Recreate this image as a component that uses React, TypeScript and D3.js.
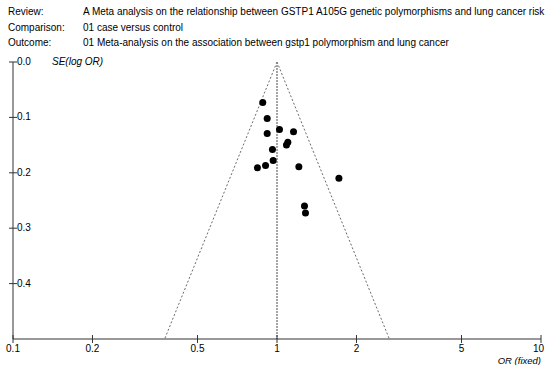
import React from "react"
import * as d3 from "d3"

// study estimates
const orValues = [0.883, 0.918, 0.918, 1.022, 1.155, 1.099, 1.086, 0.961, 0.967, 0.905, 0.843, 1.21, 1.716, 1.271, 1.282]
const seValues = [0.073, 0.102, 0.129, 0.122, 0.126, 0.145, 0.150, 0.158, 0.178, 0.187, 0.191, 0.189, 0.210, 0.260, 0.2725]
const xTicks = [0.1, 0.2, 0.5, 1, 2, 5, 10]
const yTicks = [0, 0.1, 0.2, 0.3, 0.4]
const pooledOR = 1.0
const headerLabels = ["Review:", "Comparison:", "Outcome:"]
const headerTexts = [
  "A Meta analysis on the relationship between GSTP1 A105G genetic polymorphisms and lung cancer risk",
  "01 case versus control",
  "01 Meta-analysis on the association between gstp1 polymorphism and lung cancer",
]

const W = 551
const H = 365
const font = "Liberation Sans, Arial, sans-serif"

export default function App() {
  const x = d3.scaleLog().domain([0.1, 10]).range([13, 541])
  const y = d3.scaleLinear().domain([0, 0.5]).range([62, 339])
  const seMax = 0.5
  const lo = pooledOR * Math.exp(-1.96 * seMax)
  const hi = pooledOR * Math.exp(1.96 * seMax)
  const axisColor = "#333"

  return (
    <svg width={W} height={H} style={{ position: "absolute", left: 0, top: 0, background: "#fff" }} fontFamily={font}>
      {headerLabels.map((l, i) => (
        <g key={l} fontSize={10} fill="#000">
          <text x={8} y={15 + i * 15.5}>{l}</text>
          <text x={83} y={15 + i * 15.5}>{headerTexts[i]}</text>
        </g>
      ))}

      {/* funnel */}
      <line x1={x(pooledOR)} y1={y(0)} x2={x(lo)} y2={y(seMax)} stroke="#444" strokeWidth={0.8} strokeDasharray="2,2" />
      <line x1={x(pooledOR)} y1={y(0)} x2={x(hi)} y2={y(seMax)} stroke="#444" strokeWidth={0.8} strokeDasharray="2,2" />
      <line x1={x(pooledOR)} y1={y(0)} x2={x(pooledOR)} y2={y(seMax)} stroke="#888" strokeWidth={1.5} strokeDasharray="2,1" />

      {/* y axis */}
      <line x1={x(0.1)} y1={y(0)} x2={x(0.1)} y2={y(0.5)} stroke={axisColor} strokeWidth={1} />
      {yTicks.map(t => (
        <g key={t}>
          <line x1={x(0.1) - 4} x2={x(0.1) + 4} y1={y(t)} y2={y(t)} stroke={axisColor} />
          <text x={x(0.1) + 4} y={y(t) + 3} fontSize={10} fill="#000">{d3.format(".1f")(t)}</text>
        </g>
      ))}
      <text x={52} y={65} fontSize={10} fontStyle="italic" fill="#000">SE(log OR)</text>

      {/* x axis */}
      <line x1={x(0.1)} y1={y(0.5)} x2={x(10)} y2={y(0.5)} stroke={axisColor} strokeWidth={1} />
      {xTicks.map(t => (
        <g key={t}>
          <line x1={x(t)} x2={x(t)} y1={y(0.5) - 4} y2={y(0.5) + 4} stroke={axisColor} />
          <text x={t === 10 ? x(t) + 3 : x(t)} y={y(0.5) + 13} fontSize={10} textAnchor={t === 10 ? "end" : "middle"} fill="#000">{t}</text>
        </g>
      ))}
      <text x={541} y={364} fontSize={9.5} fontStyle="italic" textAnchor="end" fill="#000">OR (fixed)</text>

      {/* studies */}
      {orValues.map((v, i) => (
        <circle key={i} cx={x(v)} cy={y(seValues[i])} r={3.5} fill="#000" />
      ))}
    </svg>
  )
}
